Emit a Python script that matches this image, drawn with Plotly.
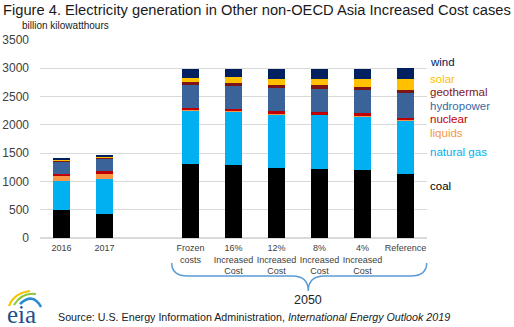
import plotly.graph_objects as go

# Scenario categories (a blank slot separates history from 2050 cases)
categories = ["2016", "2017", " ", "Frozen<br>costs", "16%<br>Increased<br>Cost",
              "12%<br>Increased<br>Cost", "8%<br>Increased<br>Cost",
              "4%<br>Increased<br>Cost", "Reference"]

# Generation by fuel, billion kilowatthours (None for the blank slot)
coal        = [490, 430, None, 1307, 1290, 1237, 1219, 1202, 1131]
natural_gas = [522, 612, None, 942, 940, 952, 958, 947, 949]
liquids     = [90, 90, None, 13, 8, 8, 8, 18, 10]
nuclear     = [35, 55, None, 40, 45, 41, 35, 35, 36]
hydropower  = [218, 218, None, 407, 412, 412, 406, 413, 436]
geothermal  = [12, 18, None, 53, 53, 53, 71, 53, 58]
solar       = [18, 17, None, 65, 106, 112, 118, 147, 195]
wind        = [20, 25, None, 160, 130, 171, 171, 171, 194]

series = [
    ("coal", coal, "#000000"),
    ("natural gas", natural_gas, "#00B0F0"),
    ("liquids", liquids, "#F79646"),
    ("nuclear", nuclear, "#C00000"),
    ("hydropower", hydropower, "#3A6399"),
    ("geothermal", geothermal, "#7F1416"),
    ("solar", solar, "#FFC000"),
    ("wind", wind, "#002060"),
]

# Right-hand label positions (pixel rows) and colours
label_rows = {"wind": 61.5, "solar": 79, "geothermal": 92, "hydropower": 105.5,
              "nuclear": 119, "liquids": 132.5, "natural gas": 151.7, "coal": 186}
label_colors = {"wind": "#002060", "solar": "#FFC000", "geothermal": "#7F1416",
                "hydropower": "#3A6AA3", "nuclear": "#C00000", "liquids": "#F79646",
                "natural gas": "#00B0F0", "coal": "#000000"}

W, H = 514, 327
L, R, T, B = 40, 87, 40, 89
PW, PH = W - L - R, H - T - B


def px(x):
    return (x - L) / PW


def py(y):
    return (H - B - y) / PH


FONT = "Liberation Sans, Arial, sans-serif"

fig = go.Figure()
for name, vals, color in series:
    fig.add_trace(go.Bar(x=categories, y=vals, name=name, marker_color=color,
                         marker_line_width=0))

annotations = [
    dict(text="Figure 4. Electricity generation in Other non-OECD Asia Increased Cost cases",
         x=px(2), y=py(10), xanchor="left", yanchor="middle",
         font=dict(size=14.7, color="#1a1a1a")),
    dict(text="billion kilowatthours", x=px(21), y=py(25), xanchor="left", yanchor="middle",
         font=dict(size=10, color="#1a1a1a")),
    dict(text="2050", x=px(308.3), y=py(299.5), xanchor="center", yanchor="middle",
         font=dict(size=12.5, color="#262626")),
    dict(text="Source: U.S. Energy Information Administration, <i>International Energy Outlook 2019</i>",
         x=px(56.5), y=py(316.7), xanchor="left", yanchor="middle",
         font=dict(size=10.7, color="#1a1a1a")),
    dict(text="eia", x=px(21.5), y=py(314), xanchor="center", yanchor="middle",
         font=dict(size=25, color="#1B4F8A", family="Liberation Serif, DejaVu Serif, serif")),
]
for name, row in label_rows.items():
    annotations.append(dict(text=name, x=px(429), y=py(row), xanchor="left", yanchor="middle",
                            font=dict(size=11.5, color=label_colors[name])))
for a in annotations:
    a.update(xref="paper", yref="paper", showarrow=False, borderpad=0)
    a["font"].setdefault("family", FONT)


def P(x, y):
    return f"{px(x):.5f},{py(y):.5f}"


# Curly brace under the 2050 cases
x0, x1, xc = 171.7, 426.7, 308.3
yt, ym, yb = 263, 276, 291
brace = (f"M {P(x0, yt)} Q {P(x0, ym)} {P(x0 + 16, ym)} L {P(xc - 16, ym)} "
         f"Q {P(xc, ym)} {P(xc, yb)} Q {P(xc, ym)} {P(xc + 16, ym)} "
         f"L {P(x1 - 16, ym)} Q {P(x1, ym)} {P(x1, yt)}")

shapes = [dict(type="path", path=brace, xref="paper", yref="paper",
               line=dict(color="#5B9BD5", width=1.5))]

# Logo swooshes
for (sx, sy, cx, cy, ex, ey, col, w) in [
    (9, 306, 14, 293, 30, 291, "#F5C400", 2.2),
    (14, 305, 22, 292, 36, 294, "#8DC63F", 2.2),
    (20, 304, 33, 292, 41, 307, "#2A8BD0", 2.6),
]:
    shapes.append(dict(type="path", path=f"M {P(sx, sy)} Q {P(cx, cy)} {P(ex, ey)}",
                       xref="paper", yref="paper", line=dict(color=col, width=w)))

fig.update_layout(
    width=W, height=H,
    margin=dict(l=L, r=R, t=T, b=B, pad=0, autoexpand=False),
    barmode="stack", bargap=0.6,
    showlegend=False,
    plot_bgcolor="white", paper_bgcolor="white",
    font=dict(family=FONT, color="#404040"),
    annotations=annotations,
    shapes=shapes,
    xaxis=dict(type="category", categoryarray=categories, tickfont=dict(size=9, color="#404040"),
               showgrid=False, showline=False, ticks="", tickangle=0, automargin=False,
               ticklabelstandoff=3),
    yaxis=dict(range=[0, 3500], dtick=500, tickfont=dict(size=12, color="#404040"),
               gridcolor="#D9D9D9", gridwidth=1, zeroline=True, zerolinecolor="#D9D9D9",
               showline=False, ticks="", ticklabelstandoff=10, automargin=False),
)

fig.write_html("out.html")
